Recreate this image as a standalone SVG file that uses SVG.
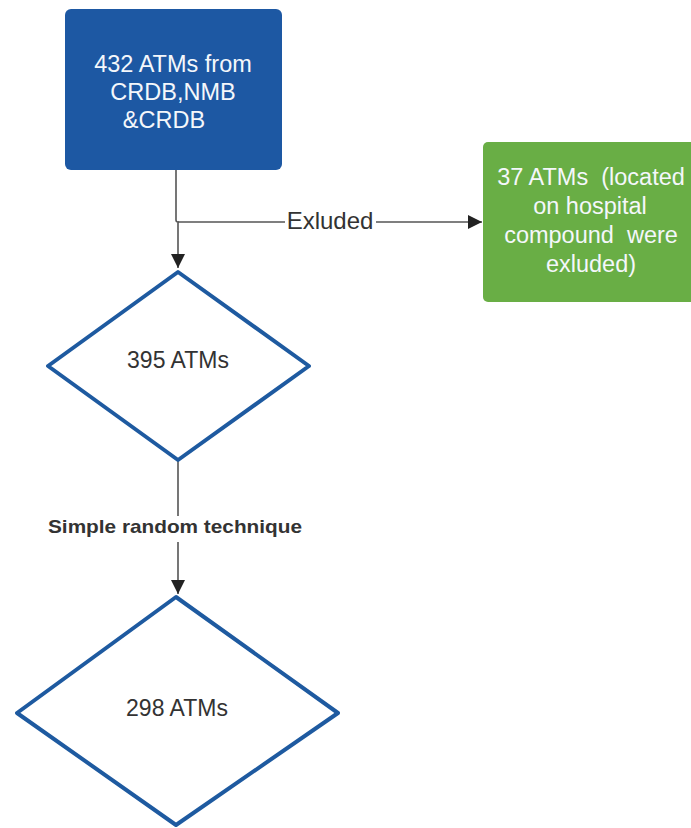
<svg xmlns="http://www.w3.org/2000/svg" width="691" height="828" viewBox="0 0 691 828">
<defs>
<style>
.lbl{font-family:"Liberation Sans",Arial,sans-serif;fill:#333;}
.wt{font-family:"Liberation Sans",Arial,sans-serif;fill:#f4f7fb;font-size:23.5px;text-anchor:middle;white-space:pre;}
.edge{fill:none;stroke:#555;stroke-width:1.6;}
.dia{fill:#fff;stroke:#1e5aa0;stroke-width:4;stroke-linejoin:round;}
</style>
<marker id="arr" viewBox="0 0 10 10" refX="10" refY="5" markerWidth="14" markerHeight="14" markerUnits="userSpaceOnUse" orient="auto">
<path d="M0,0 L10,5 L0,10 z" fill="#222"/>
</marker>
</defs>
<rect width="691" height="828" fill="#fff"/>
<g id="connectors">
<path class="edge" d="M176,170 V220 Q176,222 178,222 V268" marker-end="url(#arr)"/>
<path class="edge" d="M178,222 H285 M376,222 H482" marker-end="url(#arr)"/>
<text class="lbl" x="330" y="229" font-size="24" text-anchor="middle">Exluded</text>
<path class="edge" d="M178,460 V516 M178,542 V594" marker-end="url(#arr)"/>
<text class="lbl" x="175" y="533" font-size="19" font-weight="bold" text-anchor="middle" textLength="254" lengthAdjust="spacingAndGlyphs">Simple random technique</text>
</g>
<g id="n432">
<rect x="65" y="9" width="217" height="161" rx="6" fill="#1d58a3"/>
<text class="wt" x="173" y="72">432 ATMs from</text>
<text class="wt" x="173" y="100">CRDB,NMB</text>
<text class="wt" x="164" y="128">&amp;CRDB</text>
</g>
<g id="n37">
<rect x="483" y="142" width="215" height="160" rx="5" fill="#69ae45"/>
<text class="wt" x="591" y="185">37 ATMs  (located</text>
<text class="wt" x="590" y="214">on hospital</text>
<text class="wt" x="591" y="243">compound  were</text>
<text class="wt" x="591" y="272">exluded)</text>
</g>
<g id="n395">
<path class="dia" d="M178,272 L309,366 L178,460 L48,366 Z"/>
<text class="lbl" x="178" y="368" font-size="23" text-anchor="middle">395 ATMs</text>
</g>
<g id="n298">
<path class="dia" d="M176,597 L338,713 L176,825 L17,713 Z"/>
<text class="lbl" x="177" y="716" font-size="23" text-anchor="middle">298 ATMs</text>
</g>
</svg>
